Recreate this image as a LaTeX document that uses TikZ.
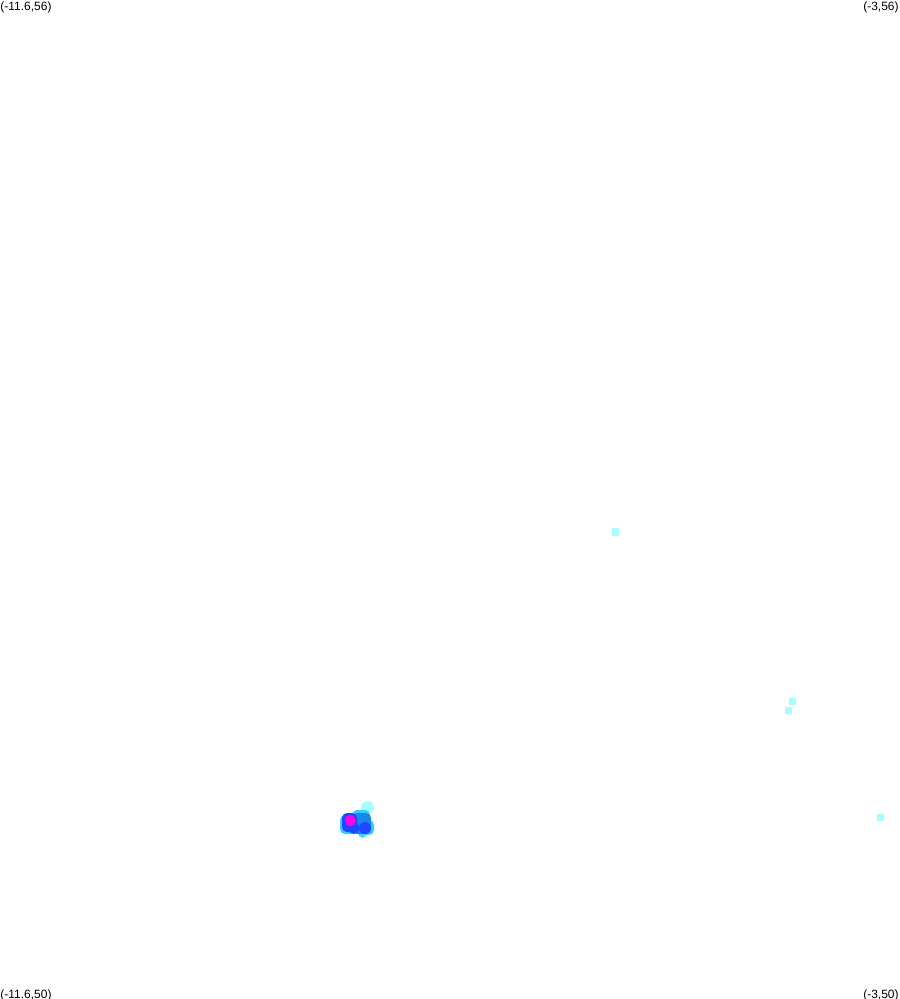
\documentclass[tikz,border=0pt]{standalone}
\usepackage{fontspec}
\setmainfont{Liberation Sans}
\usepackage{xcolor}
\usepackage{tikz}
\definecolor{palecyan}{HTML}{A6FFFF}
\definecolor{skycyan}{HTML}{33CCFF}
\definecolor{midblue}{HTML}{1A86E6}
\definecolor{deepblue}{HTML}{1E48FF}
\definecolor{hotpink}{HTML}{FF00E6}

\begin{document}
\begin{tikzpicture}[x=0.5pt,y=-0.5pt,
  corner label/.style={font=\fontsize{6}{7}\selectfont,inner sep=0pt},
  hit/.style={fill=palecyan,draw=none},
  blob/.style={rounded corners=2.5pt}]
  \useasboundingbox[fill=white] (0,0) rectangle (899,999);

  \node[corner label,anchor=north west] (topleft) at (0,1) {(-11.6,56)};
  \node[corner label,anchor=north east] (topright) at (899,1) {(-3,56)};
  \node[corner label,anchor=south west] (bottomleft) at (0,1001) {(-11.6,50)};
  \node[corner label,anchor=south east] (bottomright) at (899,1001) {(-3,50)};

  % lone squares
  \fill[hit] (612,528) rectangle (619,536);
  \foreach \x/\y in {792/701, 788/710, 880/817}
    \fill[hit] (\x-3.5,\y-3.5) rectangle (\x+3.5,\y+3.5);

  % cluster
  \fill[hit] (367.5,807.5) circle (6.5);
  \fill[skycyan,blob] (340,815) rectangle (358,834);
  \fill[skycyan,blob] (352,810) rectangle (370,826);
  \fill[skycyan,blob] (358,820) rectangle (374,835);
  \fill[skycyan!80!palecyan,blob] (358,829) rectangle (367,838);
  \fill[midblue,blob] (352,813) rectangle (371,834);
  \fill[deepblue,blob] (342,813) rectangle (357,832);
  \fill[deepblue,blob] (349,822) rectangle (359,834);
  \fill[deepblue] (365,828) circle (6);
  \fill[hotpink,blob] (345,815) rectangle (355.5,826);
\end{tikzpicture}
\end{document}
